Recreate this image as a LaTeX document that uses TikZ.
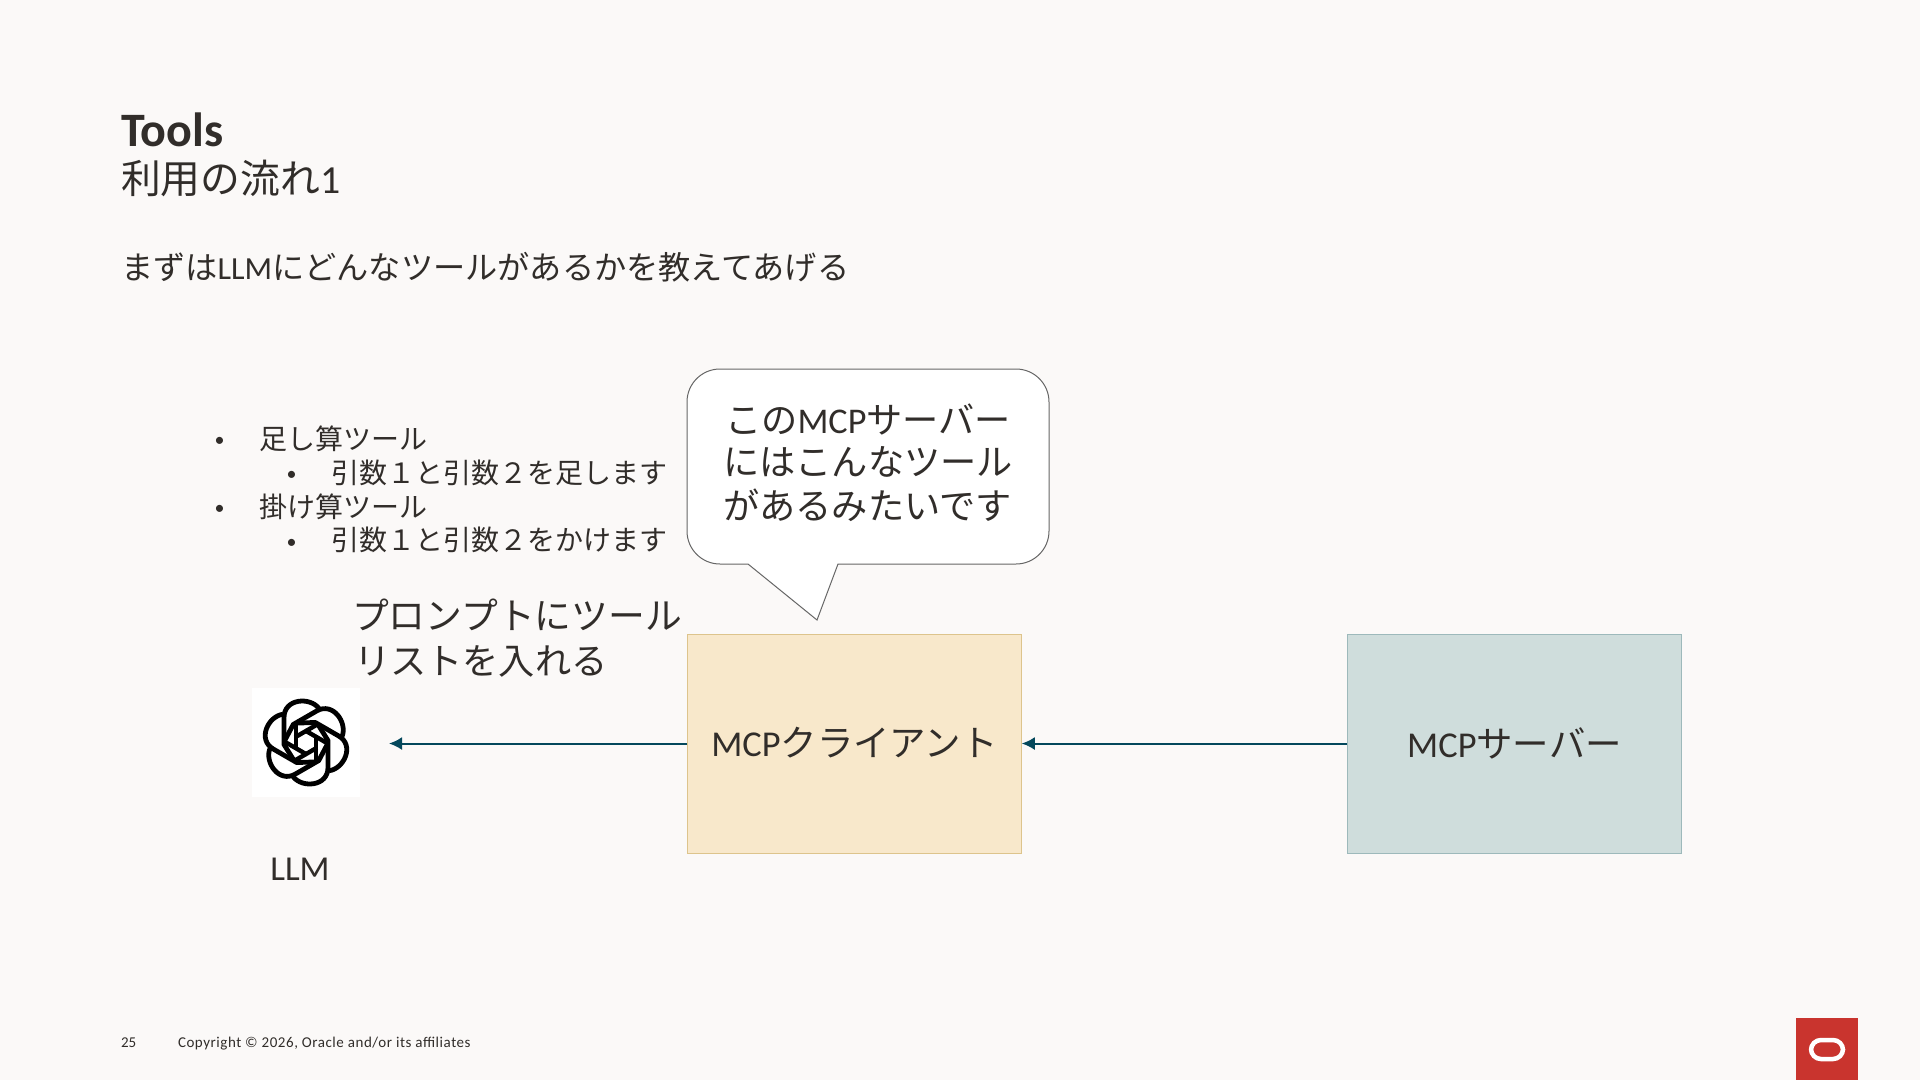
\documentclass[tikz,border=0pt]{standalone}
\usepackage{fontspec}
\setmainfont{Carlito}
\newfontfamily\jp{Noto Sans CJK JP}
\definecolor{bgc}{HTML}{FBF9F8}
\definecolor{ink}{HTML}{312D2A}
\definecolor{arrowc}{HTML}{04485C}
\definecolor{clientfill}{HTML}{F8E8CB}
\definecolor{clientline}{HTML}{DDC48C}
\definecolor{serverfill}{HTML}{CFDDDC}
\definecolor{serverline}{HTML}{9DB9BB}
\definecolor{orared}{HTML}{C9342E}
\newcommand{\J}[1]{{\jp #1}}
\newcommand{\fs}[1]{\fontsize{#1pt}{#1pt}\selectfont}
\usetikzlibrary{arrows.meta}
\tikzset{
  txt/.style={inner sep=0pt,outer sep=0pt,text=ink,anchor=base west},
  flowbox/.style={draw,line width=1pt,minimum width=334.5pt,minimum height=219pt,inner sep=0pt,outer sep=0pt,text=ink,font=\fs{36.4}},
  flowarrow/.style={draw=arrowc,line width=2pt,-{Latex[length=13pt,width=13pt]}},
  strand/.style={draw=black,line width=4.8pt,line join=round,line cap=butt},
  innerstrand/.style={draw=black,line width=4.4pt,line cap=butt},
}
\begin{document}
\begin{tikzpicture}[x=1pt,y=-1pt]
\useasboundingbox (0,0) rectangle (1920,1080);
\fill[bgc] (0,0) rectangle (1920,1080);
% headings
\node[txt,font=\fs{48}\bfseries] (title) at (121,146) {Tools};
\node[txt,font=\fs{39.8}] (sub) at (121,193) {\J{利用の流れ}1};
\node[txt,font=\fs{32.2}] (lead) at (121,279) {\J{まずは}LLM\J{にどんなツールがあるかを教えてあげる}};
% bullets
\node[txt,font=\fs{20}] (b1) at (214.5,446) {•};
\node[txt,font=\fs{28}] (t1) at (259,449) {\J{足し算ツール}};
\node[txt,font=\fs{20}] (b2) at (286.5,480) {•};
\node[txt,font=\fs{28}] (t2) at (331,483) {\J{引数１と引数２を足します}};
\node[txt,font=\fs{20}] (b3) at (214.5,514) {•};
\node[txt,font=\fs{28}] (t3) at (259,517) {\J{掛け算ツール}};
\node[txt,font=\fs{20}] (b4) at (286.5,548) {•};
\node[txt,font=\fs{28}] (t4) at (331,550.5) {\J{引数１と引数２をかけます}};
\node[txt,font=\fs{36.8}] (p1) at (352,629.5) {\J{プロンプトにツール}};
\node[txt,font=\fs{36.2}] (p2) at (354,674) {\J{リストを入れる}};
% callout
\draw[draw=black!60,line width=1pt,fill=white]
  (720,369) -- (1016,369) arc[start angle=-90,end angle=0,radius=33]
  -- (1049,531) arc[start angle=0,end angle=90,radius=33]
  -- (838,564) -- (817,620) -- (748,564) -- (720,564)
  arc[start angle=90,end angle=180,radius=33]
  -- (687,402) arc[start angle=180,end angle=270,radius=33] -- cycle;
\node[txt,anchor=base,font=\fs{36.2}] (c1) at (868,433) {\J{この}MCP\J{サーバー}};
\node[txt,anchor=base,font=\fs{36.2}] (c2) at (868,475) {\J{にはこんなツール}};
\node[txt,anchor=base,font=\fs{36.2}] (c3) at (867.5,519) {\J{があるみたいです}};
% boxes
\node[flowbox,fill=clientfill,draw=clientline] (client) at (854.5,743.5) {\raisebox{2.5pt}{MCP\J{クライアント}}};
\node[flowbox,fill=serverfill,draw=serverline] (server) at (1514.5,743.5) {\raisebox{1.5pt}{MCP\J{サーバー}}};
% LLM
\node[fill=white,minimum width=108pt,minimum height=109pt,inner sep=0pt,outer sep=0pt] (llm) at (306,742.5) {};
\foreach \a in {0,60,...,300}{
  \draw[strand,shift={(llm.center)},rotate=\a]
    (-12,18) -- (-22,2) -- (-22,-25) .. controls (-22,-44) and (4,-46) .. (13,-34);
  \draw[innerstrand,shift={(llm.center)},rotate=\a]
    (-10,7) -- (-10,-19.6);
}
\node[txt,anchor=base,font=\fs{35}] (llmlabel) at (300,880) {LLM};
\coordinate (llmin) at (389,743.5);
\draw[flowarrow] (server.west) -- (client.east);
\draw[flowarrow] (client.west) -- (llmin);
% footer
\node[txt,font=\fs{15}] (pg) at (121,1047) {25};
\node[txt,font=\fs{15}] (copy) at (178,1047) {\addfontfeature{LetterSpace=3.6}Copyright © 2026, Oracle and/or its affiliates};
\fill[fill=orared] (1796,1018) rectangle (1858,1080);
\draw[white,line width=4.5pt,rounded corners=10pt] (1811,1040) rectangle (1843,1059);
\end{tikzpicture}
\end{document}
